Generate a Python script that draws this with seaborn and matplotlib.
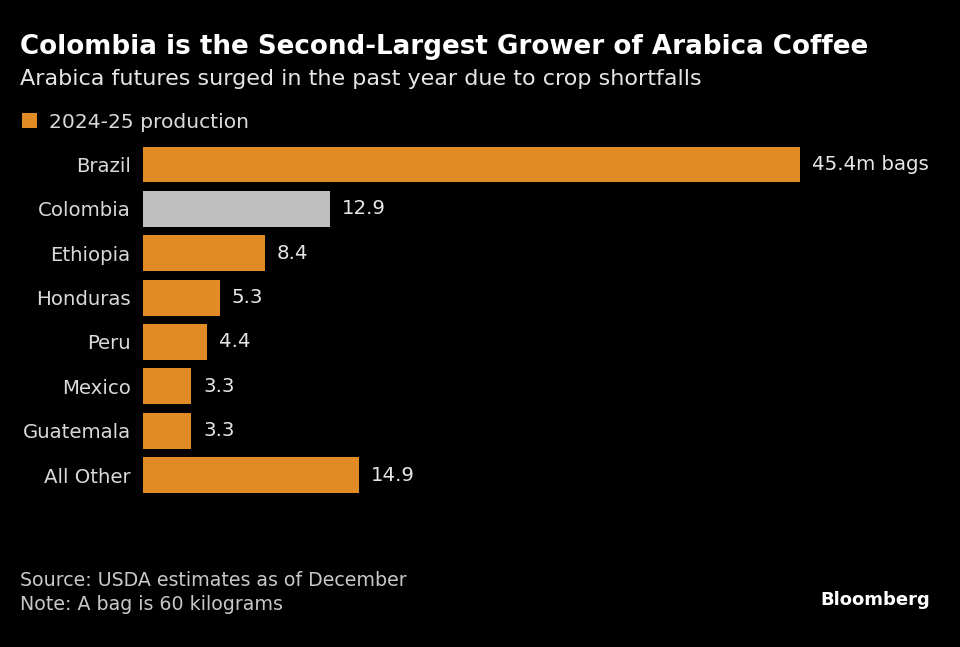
import matplotlib.pyplot as plt
import seaborn as sns
import pandas as pd
from matplotlib.patches import Patch

# Chart data
countries = ['Brazil', 'Colombia', 'Ethiopia', 'Honduras', 'Peru', 'Mexico', 'Guatemala', 'All Other']
production = [45.4, 12.9, 8.4, 5.3, 4.4, 3.3, 3.3, 14.9]
value_labels = ['45.4m bags', '12.9', '8.4', '5.3', '4.4', '3.3', '3.3', '14.9']

orange = '#E08B25'
grey = '#BFBFBF'
bar_colors = {c: (grey if c == 'Colombia' else orange) for c in countries}

df = pd.DataFrame({'country': countries, 'production': production})

sns.set_style('dark')
plt.rcParams['font.family'] = ['DejaVu Sans']

fig = plt.figure(figsize=(9.6, 6.47), dpi=100, facecolor='black')
ax = fig.add_axes([143 / 960, 0.2247, (800 - 143) / 960, 0.5622])
ax.set_facecolor('black')

sns.barplot(data=df, x='production', y='country', hue='country', palette=bar_colors,
            legend=False, width=0.81, ax=ax, saturation=1, linewidth=0)

ax.set_xlim(0, 45.4)
ax.set_ylim(7.6, -0.6)
ax.set_xlabel('')
ax.set_ylabel('')
ax.set_xticks([])
ax.tick_params(axis='y', length=0, pad=9, labelsize=14.2, labelcolor='#D9D9D9')
ax.grid(False)
for s in ax.spines.values():
    s.set_visible(False)

# value labels next to the bars
for i, (v, lab) in enumerate(zip(production, value_labels)):
    ax.text(v + 0.85, i, lab, va='center', ha='left', fontsize=14.2, color='#E6E6E6', clip_on=False)

# title, subtitle, legend
fig.text(20 / 960, 1 - 47 / 647, 'Colombia is the Second-Largest Grower of Arabica Coffee',
         fontsize=18.8, fontweight='bold', color='white', va='center', ha='left')
fig.text(20 / 960, 1 - 79 / 647, 'Arabica futures surged in the past year due to crop shortfalls',
         fontsize=16, color='#E6E6E6', va='center', ha='left')
leg = fig.legend(handles=[Patch(facecolor=orange, edgecolor='none', label='2024-25 production')],
                 loc='center left', bbox_to_anchor=(4 / 960, 1 - 122 / 647), frameon=False,
                 fontsize=14.6, handlelength=0.75, handleheight=0.75, handletextpad=0.55, labelcolor='#D9D9D9')

# footer
fig.text(20 / 960, 1 - 581 / 647, 'Source: USDA estimates as of December',
         fontsize=13.7, color='#C8C8C8', va='center', ha='left')
fig.text(20 / 960, 1 - 605 / 647, 'Note: A bag is 60 kilograms',
         fontsize=13.7, color='#C8C8C8', va='center', ha='left')
fig.text(930 / 960, 1 - 600 / 647, 'Bloomberg', fontsize=13, fontweight='bold',
         color='white', va='center', ha='right')

fig.savefig('out.png', dpi=100, facecolor='black')
